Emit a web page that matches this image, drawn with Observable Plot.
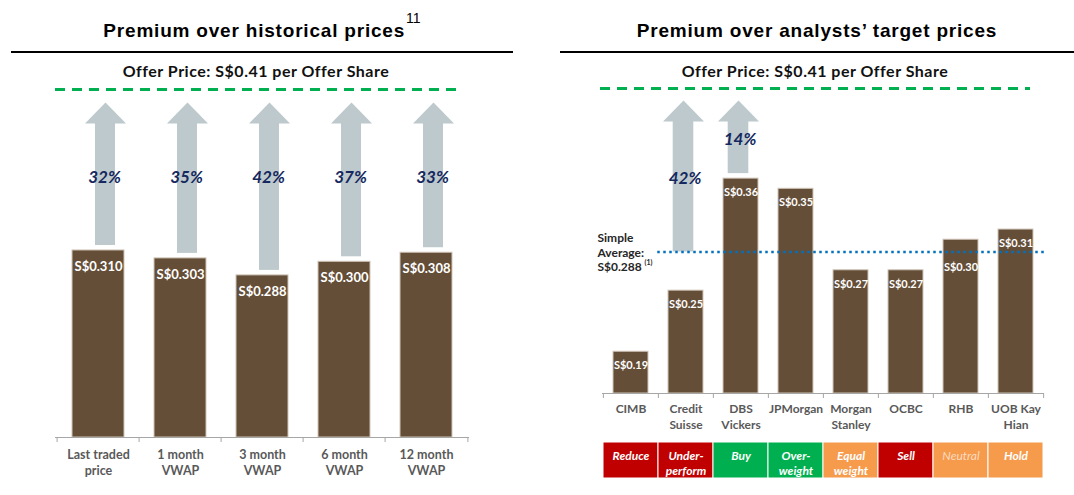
<!DOCTYPE html>
<html>
<head>
<meta charset="utf-8">
<script src="https://cdn.jsdelivr.net/npm/d3@7"></script>
<script src="https://cdn.jsdelivr.net/npm/@observablehq/plot@0.6"></script>
<style>
  body { margin: 0; background: #fff; }
  #page { position: relative; width: 1074px; height: 495px; overflow: hidden; font-family: Lato, "Open Sans", sans-serif; }
  .title { position: absolute; top: 0; height: 53px; box-sizing: border-box; border-bottom: 2px solid #000;
           font: bold 19px "Liberation Sans", Arial, sans-serif; letter-spacing: 0.8px; line-height: 22px; padding-top: 20px; text-align: center; color: #000; }
  .title .sup { position: relative; top: -14px; font-weight: normal; font-size: 14px; letter-spacing: 0; margin-left: 1px; }
  .offer { position: absolute; top: 62px; font: bold 16px Lato, "Open Sans", sans-serif; letter-spacing: 0.5px; line-height: 18px; text-align: center; color: #111; }
  .panel { position: absolute; }
</style>
</head>
<body>
<div id="page">
  <div class="title" style="left:11px;width:502px;">Premium over historical prices<span class="sup">11</span></div>
  <div class="title" style="left:560px;width:514px;">Premium over analysts’ target prices</div>
  <div class="panel" id="left" style="left:0;top:60px;"></div>
  <div class="panel" id="right" style="left:537px;top:60px;"></div>
  <div class="panel" id="ratings" style="left:537px;top:440px;"></div>
  <div class="offer" style="left:56px;width:400px;">Offer Price: S$0.41 per Offer Share</div>
  <div class="offer" style="left:600px;width:430px;">Offer Price: S$0.41 per Offer Share</div>
</div>
<script>
// ---------------- DATA ----------------
const offerPrice = 0.41;

const histPeriods = ["Last traded\nprice", "1 month\nVWAP", "3 month\nVWAP", "6 month\nVWAP", "12 month\nVWAP"];
const histPrices = [0.310, 0.303, 0.288, 0.300, 0.308];
const histPremiums = ["32%", "35%", "42%", "37%", "33%"];
const histAxisFloor = 0.145;

const brokers = ["CIMB", "Credit\nSuisse", "DBS\nVickers", "JPMorgan", "Morgan\nStanley", "OCBC", "RHB", "UOB Kay\nHian"];
const targetPrices = [0.19, 0.25, 0.36, 0.35, 0.27, 0.27, 0.30, 0.31];
const ratings = ["Reduce", "Under-\nperform", "Buy", "Over-\nweight", "Equal\nweight", "Sell", "Neutral", "Hold"];
const ratingStances = ["Negative", "Negative", "Positive", "Positive", "Neutral", "Negative", "Neutral", "Neutral"];
const simpleAverage = 0.288;
const targetAxisFloor = 0.149;
const targetArrowBrokers = ["Credit\nSuisse", "DBS\nVickers"];
const targetArrowBases = [0.288, 0.36];
const targetArrowPremiums = ["42%", "14%"];

// ---------------- STYLE ----------------
const W = 537;
const BAR = "#654E37", BAR_EDGE = "#cfc5b8", ARROW = "#BDC9CC", NAVY = "#14285F";
const GREEN = "#00B050", AXIS = "#A6A6A6", LABEL = "#595959";
const FONT = "Lato, 'Open Sans', sans-serif";
const head = {draw(ctx) { ctx.moveTo(0, 0); ctx.lineTo(20.5, 21); ctx.lineTo(-20.5, 21); ctx.closePath(); }};
// schematic axis: values above the top bar are drawn with extra vertical room (as in the source chart)
const stretchAbove = (knot, factor) => v => v <= knot ? v : knot + (v - knot) * factor;

// ---------------- LEFT PANEL ----------------
const fL = stretchAbove(d3.max(histPrices), 1.42);
const histRows = histPeriods.map((p, i) => ({period: p, price: histPrices[i], premium: histPremiums[i]}));
const xL = {type: "band", domain: histPeriods, paddingInner: 0.36, paddingOuter: 0.18, axis: null};
const yL = {domain: [histAxisFloor, fL(offerPrice)], axis: null};
const stepL = Plot.scale({x: {...xL, range: [55, 469]}}).step;

const left = Plot.plot({
  width: W, height: 435, marginTop: 29, marginLeft: 55, marginRight: 68, marginBottom: 58,
  x: xL, y: yL,
  style: {fontFamily: FONT, background: "transparent", overflow: "visible"},
  marks: [
    Plot.ruleY([fL(offerPrice)], {stroke: GREEN, strokeWidth: 3, strokeDasharray: "10,7", insetRight: 12}),
    Plot.barY(histRows, {x: "period", y1: d => fL(d.price), y2: () => fL(offerPrice), fill: ARROW,
      insetTop: 33, insetBottom: 5, insetLeft: 23, insetRight: 9}),
    Plot.dot(histRows, {x: "period", y: () => fL(offerPrice), dy: 13, dx: 7, symbol: head, fill: ARROW, stroke: "none"}),
    Plot.text(histRows, {x: "period", y: () => fL(offerPrice), dy: 88, dx: 6, text: "premium",
      fill: NAVY, fontSize: 17, fontWeight: "bold", fontStyle: "italic"}),
    Plot.barY(histRows, {x: "period", y1: () => histAxisFloor, y2: d => fL(d.price), fill: BAR, stroke: BAR_EDGE, strokeWidth: 1}),
    Plot.text(histRows, {x: "period", y: d => fL(d.price), dy: 16, text: d => "S$" + d.price.toFixed(3),
      fill: "white", fontSize: 13, fontWeight: "bold"}),
    Plot.ruleY([histAxisFloor], {stroke: AXIS, strokeWidth: 1}),
    Plot.ruleX(histPeriods, {x: d => d, y1: () => histAxisFloor, y2: () => histAxisFloor, insetBottom: -5, dx: -stepL / 2, stroke: AXIS}),
    Plot.ruleX(histPeriods.slice(-1), {x: d => d, y1: () => histAxisFloor, y2: () => histAxisFloor, insetBottom: -5, dx: stepL / 2, stroke: AXIS}),
    Plot.text(histPeriods, {x: d => d, frameAnchor: "bottom", lineAnchor: "top", dy: 10,
      fontSize: 12.5, fontWeight: "bold", fill: LABEL, lineHeight: 1.28})
  ]
});
document.getElementById("left").append(left);

// ---------------- RIGHT PANEL ----------------
const fR = stretchAbove(d3.max(targetPrices), 1.77);
const targetRows = brokers.map((b, i) => ({broker: b, target: targetPrices[i]}));
const xR = {type: "band", domain: brokers, paddingInner: 0.36, paddingOuter: 0.18, axis: null};
const yR = {domain: [targetAxisFloor, fR(offerPrice)], axis: null};
const stepR = Plot.scale({x: {...xR, range: [65, 507]}}).step;
const yRs = Plot.scale({y: {...yR, range: [333, 28]}});
const tipR = 12;
const arrowRows = targetArrowBrokers.map((b, i) => {
  const base = targetArrowBases[i];
  const gap = base === simpleAverage ? 0 : 5;
  const mid = (yRs.apply(fR(base)) - gap + yRs.apply(fR(offerPrice)) + tipR) / 2;
  return {broker: b, base, gap, premium: targetArrowPremiums[i], labelY: yRs.invert(mid)};
});
const collides = d => Math.abs(yRs.apply(fR(d.target)) + 14 - yRs.apply(fR(simpleAverage))) < 6;

const right = Plot.plot({
  width: W, height: 375, marginTop: 28, marginLeft: 65, marginRight: 30, marginBottom: 42,
  x: xR, y: yR,
  style: {fontFamily: FONT, background: "transparent", overflow: "visible"},
  marks: [
    Plot.ruleY([fR(offerPrice)], {stroke: GREEN, strokeWidth: 3, strokeDasharray: "10,7", insetLeft: -2, insetRight: 14}),
    ...arrowRows.map(r => Plot.barY([r], {x: "broker", y1: d => fR(d.base), y2: () => fR(offerPrice), fill: ARROW,
      insetTop: 32, insetBottom: r.gap, insetLeft: 4.7, insetRight: 9.7})),
    Plot.dot(arrowRows, {x: "broker", y: () => fR(offerPrice), dy: tipR, dx: -2.5, symbol: head, fill: ARROW, stroke: "none"}),
    Plot.text(arrowRows, {x: "broker", y: "labelY", dy: 2, dx: -1, text: "premium",
      fill: NAVY, fontSize: 17, fontWeight: "bold", fontStyle: "italic"}),
    Plot.barY(targetRows, {x: "broker", y1: () => targetAxisFloor, y2: d => fR(d.target), fill: BAR, stroke: BAR_EDGE, strokeWidth: 1}),
    Plot.text(targetRows.filter(d => !collides(d)), {x: "broker", y: d => fR(d.target), dy: 14, text: d => "S$" + d.target.toFixed(2),
      fill: "white", fontSize: 11, fontWeight: "bold"}),
    Plot.text(targetRows.filter(collides), {x: "broker", y: d => fR(d.target), dy: 28, text: d => "S$" + d.target.toFixed(2),
      fill: "white", fontSize: 11, fontWeight: "bold"}),
    Plot.ruleY([fR(simpleAverage)], {stroke: "#0070C0", strokeWidth: 2.5, strokeDasharray: "2.5,3.5", insetLeft: stepR, insetRight: -1}),
    Plot.text([simpleAverage], {y: d => fR(d), frameAnchor: "left", dx: -5, dy: 0, textAnchor: "start",
      text: d => "Simple\nAverage:\nS$" + d.toFixed(3), lineHeight: 1.2, fontSize: 12, fontWeight: "bold", fill: "#262626"}),
    Plot.text([simpleAverage], {y: d => fR(d), frameAnchor: "left", dx: 42, dy: 11, textAnchor: "start",
      text: () => "(1)", fontSize: 7, fontWeight: "bold", fill: "#262626"}),
    Plot.ruleY([targetAxisFloor], {stroke: AXIS, strokeWidth: 1}),
    Plot.ruleX(brokers, {x: d => d, y1: () => targetAxisFloor, y2: () => targetAxisFloor, insetBottom: -5, dx: -stepR / 2, stroke: AXIS}),
    Plot.ruleX(brokers.slice(-1), {x: d => d, y1: () => targetAxisFloor, y2: () => targetAxisFloor, insetBottom: -5, dx: stepR / 2, stroke: AXIS}),
    Plot.text(brokers, {x: d => d, frameAnchor: "bottom", lineAnchor: "top", dy: 8.5,
      fontSize: 12, fontWeight: "bold", fill: LABEL, lineHeight: 1.33})
  ]
});
document.getElementById("right").append(right);

// ---------------- RATINGS STRIP ----------------
const ratingRows = brokers.map((b, i) => ({broker: b, rating: ratings[i], stance: ratingStances[i]}));
const ratingsPlot = Plot.plot({
  width: W, height: 40, marginTop: 2, marginBottom: 2, marginLeft: 63, marginRight: 28,
  x: {type: "band", domain: brokers, padding: 0, axis: null},
  color: {domain: ["Negative", "Positive", "Neutral"], range: ["#C00000", "#00B050", "#F69A4C"]},
  style: {fontFamily: FONT, background: "transparent", overflow: "visible"},
  marks: [
    Plot.cell(ratingRows, {x: "broker", fill: "stance", stroke: "white", strokeWidth: 1}),
    Plot.text(ratingRows.filter(d => d.rating !== "Neutral"), {x: "broker", text: "rating", frameAnchor: "top", lineAnchor: "top", dy: 7,
      fill: "white", fontSize: 12, fontWeight: "bold", fontStyle: "italic", lineHeight: 1.25}),
    Plot.text(ratingRows.filter(d => d.rating === "Neutral"), {x: "broker", text: "rating", frameAnchor: "top", lineAnchor: "top", dy: 7,
      fill: "#FBDCC0", fontSize: 12, fontStyle: "italic", lineHeight: 1.25})
  ]
});
document.getElementById("ratings").append(ratingsPlot);
</script>
</body>
</html>
